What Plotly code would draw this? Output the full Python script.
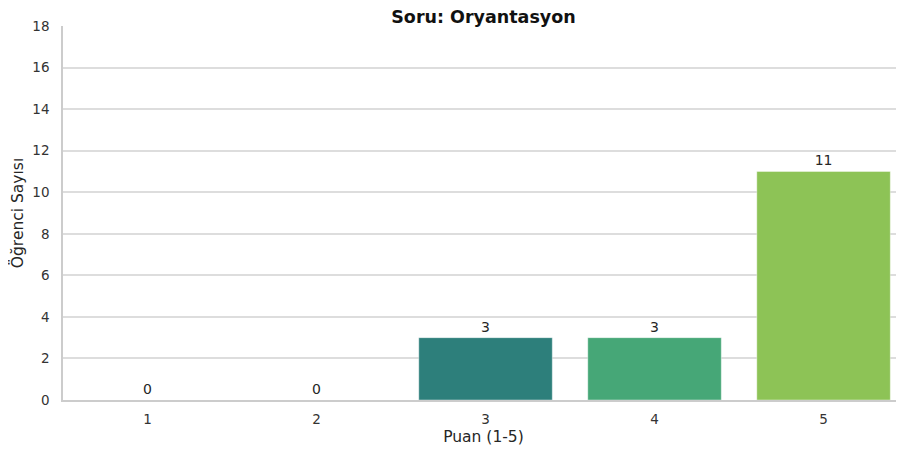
import plotly.graph_objects as go

# Data
scores = ["1", "2", "3", "4", "5"]
counts = [0, 0, 3, 3, 11]
bar_colors = ["#4a4a7f", "#33718a", "#2d7f7b", "#46a777", "#8dc356"]

title = "<b>Soru: Oryantasyon</b>"

# page body adds an 8px margin, so the figure is a bit smaller than the window
fig = go.Figure()
fig.add_trace(go.Bar(
    x=scores,
    y=counts,
    width=0.79,
    marker=dict(color=bar_colors, line=dict(width=0.8, color="rgba(255,255,255,0.5)")),
    text=counts,
    textposition="outside",
    textfont=dict(size=14, color="#262626"),
    cliponaxis=False,
))

fig.update_layout(
    width=896,
    height=449,
    margin=dict(l=55, r=0, t=18, b=57),
    plot_bgcolor="white",
    paper_bgcolor="white",
    font=dict(family="DejaVu Sans", size=13, color="#333333"),
    title=dict(text=title, xref="paper", x=0.5, xanchor="center",
               y=1 - 3 / 449, yanchor="top",
               pad=dict(t=0, b=0), font=dict(size=17.5, color="#111111")),
    showlegend=False,
)

fig.update_xaxes(
    type="category",
    range=[-0.5, 4.476],
    automargin=False,
    title=dict(text="Puan (1-5)", standoff=5, font=dict(size=15.5, color="#262626")),
    showline=True, linecolor="#cccccc", linewidth=1.5,
    showgrid=False, ticks="", ticklabelstandoff=6,
    tickfont=dict(size=13.5, color="#333333"),
)
fig.update_yaxes(
    range=[0, 18],
    dtick=2,
    automargin=False,
    title=dict(text="Öğrenci Sayısı", standoff=6, font=dict(size=15.5, color="#262626")),
    showline=True, linecolor="#cccccc", linewidth=1.5,
    showgrid=True, gridcolor="#dddddd", gridwidth=1.5,
    zeroline=False, ticks="", ticklabelstandoff=9,
    tickfont=dict(size=13.5, color="#333333"),
)

fig.write_html("out.html")
